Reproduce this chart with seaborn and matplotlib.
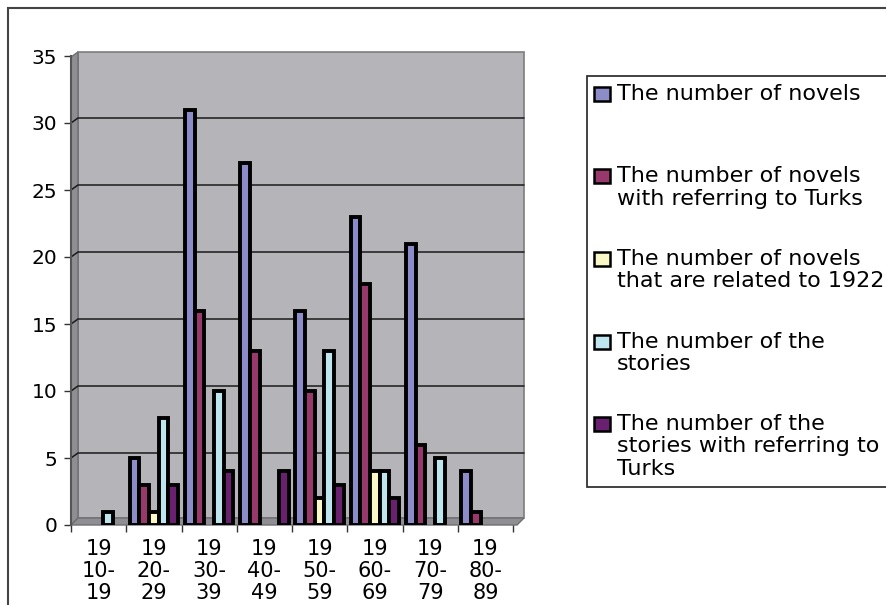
import pandas as pd
import matplotlib
matplotlib.use("Agg")
import matplotlib.pyplot as plt
from matplotlib.patches import Rectangle, Polygon
import seaborn as sns

# data
decades = ["19\n10-\n19", "19\n20-\n29", "19\n30-\n39", "19\n40-\n49",
           "19\n50-\n59", "19\n60-\n69", "19\n70-\n79", "19\n80-\n89"]
series_names = [
    "The number of novels",
    "The number of novels\nwith referring to Turks",
    "The number of novels\nthat are related to 1922",
    "The number of the\nstories",
    "The number of the\nstories with referring to\nTurks",
]
novels = [0, 5, 31, 27, 16, 23, 21, 4]
novels_turks = [0, 3, 16, 13, 10, 18, 6, 1]
novels_1922 = [0, 1, 0, 0, 2, 4, 0, 0]
stories = [1, 8, 10, 0, 13, 4, 5, 0]
stories_turks = [0, 3, 4, 4, 3, 2, 0, 0]
colors = ["#8c8cc8", "#973a6b", "#fbf8c8", "#bfe6ee", "#69206e"]
y_ticks = [0, 5, 10, 15, 20, 25, 30, 35]

values = [novels, novels_turks, novels_1922, stories, stories_turks]
rows = []
for name, vals in zip(series_names, values):
    for d, v in zip(decades, vals):
        rows.append({"decade": d, "series": name, "count": v})
df = pd.DataFrame(rows)

sns.set_style("white")
plt.rcParams["font.family"] = ["DejaVu Sans"]
plt.rcParams["text.color"] = "black"
plt.rcParams["xtick.color"] = "black"
plt.rcParams["ytick.color"] = "black"

W, H = 886, 605
fig = plt.figure(figsize=(W / 100, H / 100), dpi=100)


def px(x, y):
    return (x / W, 1 - y / H)


# axes = front plane of the 3d chart
ax = fig.add_axes([71 / W, 80 / H, 442 / W, 469 / H])
ax.set_facecolor("none")

# back wall, side wall and floor (excel style 3d look), behind the axes
wall_col = "#b5b5b9"
side_col = "#8f8f93"
fig.patches.append(Polygon([px(78, 52), px(524, 52), px(524, 518), px(78, 518)],
                           closed=True, transform=fig.transFigure, facecolor=wall_col,
                           edgecolor="#7d7d80", lw=1.2, zorder=-3))
fig.patches.append(Polygon([px(71, 57), px(78, 52), px(78, 518), px(71, 525)],
                           closed=True, transform=fig.transFigure, facecolor=side_col,
                           edgecolor="#6f6f72", lw=1, zorder=-3))
fig.patches.append(Polygon([px(71, 525), px(78, 518), px(524, 518), px(517, 525)],
                           closed=True, transform=fig.transFigure, facecolor=side_col,
                           edgecolor="#6f6f72", lw=1, zorder=-3))

# gridlines on the back wall
for v in y_ticks[1:-1]:
    yp = 525 - v * 469 / 35
    fig.lines.append(plt.Line2D([71 / W, 78 / W, 524 / W],
                                [1 - yp / H, 1 - (yp - 5) / H, 1 - (yp - 5) / H],
                                transform=fig.transFigure, color="#1a1a1a", lw=1.1, zorder=-2))

sns.barplot(data=df, x="decade", y="count", hue="series", order=decades,
            hue_order=series_names, palette=colors, width=0.88,
            edgecolor="black", linewidth=2.8, saturation=1, ax=ax, legend=False)
for p in ax.patches:
    if p.get_height() == 0:
        p.set_visible(False)

ax.set_xlim(-0.5, 7.5)
ax.set_ylim(0, 35)
ax.set_yticks(y_ticks)
ax.set_xlabel("")
ax.set_ylabel("")
for s in ax.spines.values():
    s.set_visible(False)
ax.spines["left"].set_visible(True)
ax.spines["left"].set_color("#555555")
ax.spines["left"].set_linewidth(1.5)

ax.tick_params(axis="y", length=5, width=1, color="#333333", direction="out",
               labelsize=14.5, pad=5, left=True)
ax.tick_params(axis="x", which="major", length=0, labelsize=15, pad=10)
ax.set_xticks([i - 0.5 for i in range(9)], minor=True)
ax.tick_params(axis="x", which="minor", length=5, width=1, color="#333333",
               direction="out", bottom=True)
for lab in ax.get_xticklabels():
    lab.set_linespacing(1.12)

# legend drawn as a boxed key on the right
fig.patches.append(Rectangle(px(587, 487), (905 - 587) / W, (487 - 76) / H,
                             transform=fig.transFigure, facecolor="white",
                             edgecolor="#333333", lw=1.3))
for i, (name, col) in enumerate(zip(series_names, colors)):
    top = 85 + i * 82.5
    fig.patches.append(Rectangle(px(594, top + 16), 16 / W, 14 / H,
                                 transform=fig.transFigure, facecolor=col,
                                 edgecolor="black", lw=1.8))
    fig.text(617 / W, 1 - (top - 1) / H, name, fontsize=16, va="top", ha="left",
             linespacing=1.15)

# outer chart border
fig.patches.append(Rectangle(px(8, 640), 900 / W, 632 / H, transform=fig.transFigure,
                             facecolor="none", edgecolor="#444444", lw=1.5))

fig.savefig("out.png", dpi=100)
